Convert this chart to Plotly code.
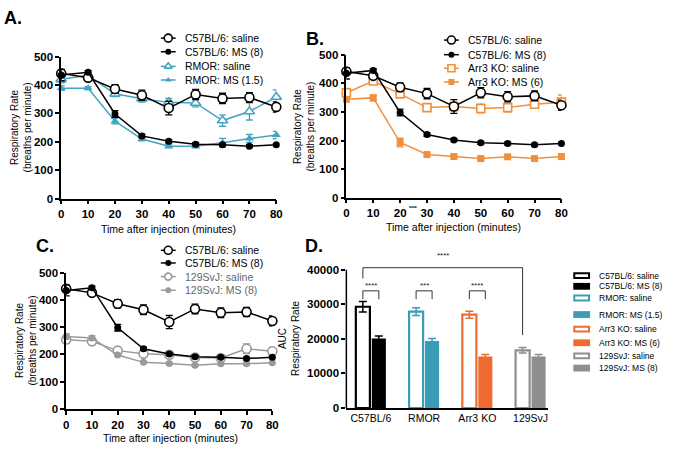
import plotly.graph_objects as go

W, H = 674, 450
FONT = "Liberation Sans"

# time points (minutes after injection)
time_min = [0, 10, 20, 30, 40, 50, 60, 70, 80]

# C57BL/6 controls (same in A, B, C)
c57_saline = [441, 426, 386, 364, 319, 367, 353, 356, 323]
c57_saline_err = [12, 8, 15, 18, 24, 18, 18, 17, 18]
c57_ms = [435, 445, 298, 221, 202, 192, 190, 185, 190]
c57_ms_err = [20, 6, 12, 6, 5, 5, 5, 5, 4]

# RMOR
rmor_saline = [420, 434, 369, 352, 339, 337, 275, 307, 358]
rmor_saline_err = [12, 8, 10, 12, 14, 14, 20, 30, 25]
rmor_ms = [389, 389, 273, 210, 185, 185, 197, 212, 224]
rmor_ms_err = [8, 5, 10, 6, 6, 6, 15, 14, 13]

# Arr3 KO
arr3_saline = [367, 408, 363, 315, 319, 312, 315, 327, 334]
arr3_saline_err = [15, 10, 10, 8, 15, 15, 15, 12, 25]
arr3_ms = [344, 349, 193, 151, 144, 137, 143, 137, 144]
arr3_ms_err = [8, 10, 15, 5, 5, 5, 5, 5, 5]

# 129SvJ
sv_saline = [255, 248, 214, 203, 199, 189, 187, 221, 212]
sv_saline_err = [15, 12, 12, 8, 10, 8, 8, 18, 14]
sv_ms = [266, 260, 198, 171, 167, 160, 166, 166, 170]
sv_ms_err = [10, 8, 5, 4, 4, 4, 4, 4, 4]

# panel D: area under curve
auc_strains = ["C57BL/6", "RMOR", "Arr3 KO", "129SvJ"]
auc_saline = [29300, 27900, 27000, 16700]
auc_saline_err = [1500, 1100, 1000, 800]
auc_ms = [20100, 19400, 14900, 14900]
auc_ms_err = [700, 700, 600, 600]
auc_ms_doses = ["MS (8)", "MS (1.5)", "MS (6)", "MS (8)"]

BLACK = "#000000"
TEAL = "#44A5C2"
TEAL_BAR = "#3A9CB7"
ORANGE = "#F28F3B"
ORANGE_BAR = "#EE6A2E"
GRAY = "#9A9A9A"
GRAY_BAR = "#8E8E8E"
bar_colors = [BLACK, TEAL_BAR, ORANGE_BAR, GRAY_BAR]

fig = go.Figure()


def dom_x(a, b):
    return [a / W, b / W]


def dom_y(top, bottom):
    return [1 - bottom / H, 1 - top / H]


def add_series(xa, ya, y, err, color, symbol, size, hollow):
    fig.add_trace(go.Scatter(
        x=time_min, y=y, xaxis=xa, yaxis=ya, mode="lines+markers",
        line=dict(color=color, width=1.5),
        marker=dict(symbol=symbol, size=size, color="white" if hollow else color,
                    line=dict(color=color, width=1.6 if hollow else 0)),
        error_y=dict(type="data", array=err, color=color, thickness=1.3, width=3.5),
        cliponaxis=False, showlegend=False, hoverinfo="skip"))


# Panel A
add_series("x", "y", rmor_saline, rmor_saline_err, TEAL, "triangle-up", 9, True)
add_series("x", "y", rmor_ms, rmor_ms_err, TEAL, "triangle-up", 8, False)
add_series("x", "y", c57_saline, c57_saline_err, BLACK, "circle", 9, True)
add_series("x", "y", c57_ms, c57_ms_err, BLACK, "circle", 7, False)
# Panel B
add_series("x2", "y2", arr3_saline, arr3_saline_err, ORANGE, "square", 8, True)
add_series("x2", "y2", arr3_ms, arr3_ms_err, ORANGE, "square", 7, False)
add_series("x2", "y2", c57_saline, c57_saline_err, BLACK, "circle", 9, True)
add_series("x2", "y2", c57_ms, c57_ms_err, BLACK, "circle", 7, False)
# Panel C
add_series("x3", "y3", sv_saline, sv_saline_err, GRAY, "circle", 9, True)
add_series("x3", "y3", sv_ms, sv_ms_err, GRAY, "circle", 7, False)
add_series("x3", "y3", c57_saline, c57_saline_err, BLACK, "circle", 9, True)
add_series("x3", "y3", c57_ms, c57_ms_err, BLACK, "circle", 7, False)

# Panel D bars
for i, strain in enumerate(auc_strains):
    fig.add_trace(go.Bar(
        x=[strain], y=[auc_saline[i]], xaxis="x4", yaxis="y4", offsetgroup="sal",
        marker=dict(color="white", line=dict(color=bar_colors[i], width=2.2)),
        error_y=dict(type="data", array=[auc_saline_err[i]], color=bar_colors[i],
                     thickness=1.5, width=4),
        showlegend=False, hoverinfo="skip"))
    fig.add_trace(go.Bar(
        x=[strain], y=[auc_ms[i]], xaxis="x4", yaxis="y4", offsetgroup="ms",
        marker=dict(color=bar_colors[i], line=dict(width=0)),
        error_y=dict(type="data", array=[auc_ms_err[i]], color=bar_colors[i],
                     thickness=1.5, width=4),
        showlegend=False, hoverinfo="skip"))

tick_bold = dict(family=FONT, size=11.5, color="black", weight="bold")
line_ax = dict(showline=True, linecolor="black", linewidth=1.5, ticks="outside",
               ticklen=4, tickwidth=1.5, tickcolor="black", showgrid=False,
               zeroline=False, tickfont=tick_bold, fixedrange=True)


def xa_time(dom, anchor):
    return dict(line_ax, domain=dom, anchor=anchor, range=[0, 80], tickvals=time_min)


def ya_rate(dom, anchor):
    return dict(line_ax, domain=dom, anchor=anchor, range=[0, 500], dtick=100)


fig.update_layout(
    width=W, height=H, margin=dict(l=0, r=0, t=0, b=0),
    paper_bgcolor="white", plot_bgcolor="rgba(0,0,0,0)",
    font=dict(family=FONT, color="black"),
    barmode="group", bargap=0.4, bargroupgap=0.12,
    xaxis=xa_time(dom_x(59, 277), "y"), yaxis=ya_rate(dom_y(52, 198), "x"),
    xaxis2=xa_time(dom_x(348, 566), "y2"), yaxis2=ya_rate(dom_y(50, 197), "x2"),
    xaxis3=xa_time(dom_x(64, 273), "y3"), yaxis3=ya_rate(dom_y(274, 414), "x3"),
    xaxis4=dict(domain=dom_x(348, 552), anchor="y4", type="category",
                categoryorder="array", categoryarray=auc_strains,
                range=[-0.46, 3.32], showline=True, linecolor="black", linewidth=1.5,
                ticks="", showgrid=False, zeroline=False, fixedrange=True,
                tickfont=dict(family=FONT, size=10.5, color="black")),
    yaxis4=dict(domain=dom_y(253.25, 413), anchor="x4", range=[0, 45000],
                tickvals=[0, 10000, 20000, 30000, 40000], tickformat="d",
                showline=False, ticks="outside", ticklen=4, tickwidth=1.5,
                tickcolor="black", showgrid=False, zeroline=False,
                tickfont=tick_bold, fixedrange=True),
    # overlay in pixel units for legends and labels
    xaxis5=dict(domain=[0, 1], anchor="y5", range=[0, W], visible=False, fixedrange=True),
    yaxis5=dict(domain=[0, 1], anchor="x5", range=[H, 0], visible=False, fixedrange=True),
)

shapes = [dict(type="line", xref="x4 domain", yref="y4", x0=0, x1=0, y0=0, y1=40000,
               line=dict(color="black", width=1.5))]
annotations = []


def txt(x, y, text, size, bold=False, xanchor="center", angle=0, color="black"):
    annotations.append(dict(
        x=x, y=y, xref="x5", yref="y5", text=text, showarrow=False,
        xanchor=xanchor, yanchor="middle", textangle=angle, borderpad=0,
        font=dict(family=FONT, size=size, color=color, weight="bold" if bold else "normal")))


# significance brackets (data units of panel D)
pair_off = 0.15
bracket_sets = [(0, "****"), (1, "***"), (2, "****")]
for i, stars in bracket_sets:
    shapes.append(dict(type="path", xref="x4", yref="y4",
                       path=f"M {i - pair_off},31500 L {i - pair_off},33900 "
                            f"L {i + pair_off},33900 L {i + pair_off},31500",
                       line=dict(color="#333333", width=1)))
    annotations.append(dict(x=i, y=35400, xref="x4", yref="y4", text=stars,
                            showarrow=False, font=dict(family=FONT, size=8, color="#222"),
                            yanchor="middle"))
shapes.append(dict(type="path", xref="x4", yref="y4",
                   path=f"M {-pair_off},37500 L {-pair_off},40600 "
                        f"L {3 - pair_off},40600 L {3 - pair_off},21100",
                   line=dict(color="#333333", width=1)))
annotations.append(dict(x=1.35, y=44000, xref="x4", yref="y4", text="****",
                        showarrow=False, font=dict(family=FONT, size=8, color="#222"),
                        yanchor="middle"))

# panel letters
txt(0, 12, "A.", 18, True, "left")
txt(306, 34, "B.", 18, True, "left")
txt(32, 247, "C.", 18, True, "left")
txt(305, 247, "D.", 18, True, "left")

# axis titles
rate_title = "Respiratory Rate<br>(breaths per minute)"
txt(18, 125, rate_title, 10, angle=-90)
txt(305, 124, rate_title, 10, angle=-90)
txt(23, 344, rate_title, 10, angle=-90)
txt(290, 342, "AUC<br>Respiratory Rate", 10, angle=-90)
time_title = "Time after injection (minutes)"
txt(168, 229, time_title, 10.5)
txt(457, 227, time_title, 10.5)
txt(170, 444, time_title, 10.5)
txt(410, 208, "****", 5, True, "left")


def line_key(x0, y, label, color, symbol, size, hollow, text_color=BLACK):
    fig.add_trace(go.Scatter(
        x=[x0, x0 + 15], y=[y, y], xaxis="x5", yaxis="y5", mode="lines",
        line=dict(color=color, width=1.5), showlegend=False, hoverinfo="skip"))
    fig.add_trace(go.Scatter(
        x=[x0 + 7.5], y=[y], xaxis="x5", yaxis="y5", mode="markers",
        marker=dict(symbol=symbol, size=size, color="white" if hollow else color,
                    line=dict(color=color, width=1.6 if hollow else 0)),
        showlegend=False, hoverinfo="skip"))
    txt(x0 + 23, y, label, 10.5, xanchor="left", color=text_color)


def line_legend(x0, rows, strain, color, symbol, dose, text_color=BLACK):
    line_key(x0, rows[0], "C57BL/6: saline", BLACK, "circle", 8, True)
    line_key(x0, rows[1], "C57BL/6: MS (8)", BLACK, "circle", 6, False)
    line_key(x0, rows[2], f"{strain}: saline", color, symbol, 7, True, text_color)
    line_key(x0, rows[3], f"{strain}: {dose}", color, symbol, 6, False, text_color)


line_legend(160, [33, 47, 62, 76], "RMOR", TEAL, "triangle-up", "MS (1.5)")
line_legend(447, [35, 50, 64, 78], "Arr3 KO", ORANGE, "square", "MS (6)")
line_legend(160, [251, 264, 278, 292], "129SvJ", GRAY, "circle", "MS (8)", "#666666")

# panel D legend
d_rows = [277, 288, 300, 317, 332, 346, 359.5, 372]
for i, strain in enumerate(auc_strains):
    for j, (kind, dose) in enumerate([("saline", "saline"), ("ms", auc_ms_doses[i])]):
        yc = d_rows[2 * i + j]
        if kind == "saline":
            shapes.append(dict(type="rect", xref="x5", yref="y5", x0=579, x1=594,
                               y0=yc - 2.5, y1=yc + 2.5, fillcolor="white",
                               line=dict(color=bar_colors[i], width=2)))
        else:
            shapes.append(dict(type="rect", xref="x5", yref="y5", x0=578, x1=595,
                               y0=yc - 3.5, y1=yc + 3.5, fillcolor=bar_colors[i],
                               line=dict(width=0)))
        txt(603, yc, f"{strain}: {dose}", 8.5, xanchor="left")

fig.update_layout(shapes=shapes, annotations=annotations)

fig.write_html("out.html", config={"displayModeBar": False},
               post_script="document.body.style.margin='0';")
